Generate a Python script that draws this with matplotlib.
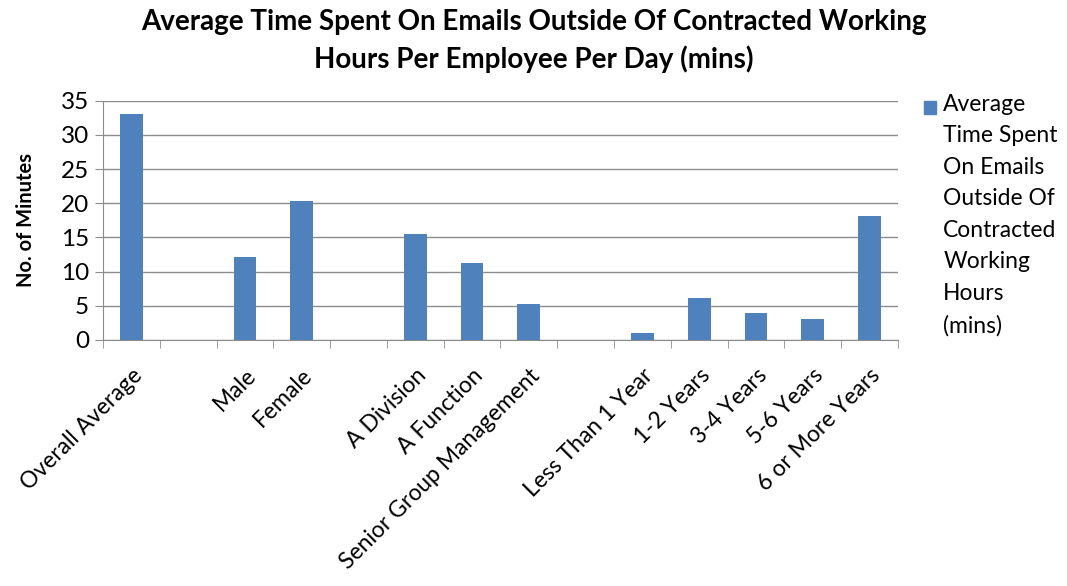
import matplotlib
matplotlib.use("Agg")
import matplotlib.pyplot as plt
import numpy as np

plt.rcParams['font.family'] = ['Lato', 'DejaVu Sans']

categories = ["Overall Average", "", "Male", "Female", "", "A Division",
              "A Function", "Senior Group Management", "", "Less Than 1 Year",
              "1-2 Years", "3-4 Years", "5-6 Years", "6 or More Years"]
minutes = [33.1, 0, 12.2, 20.4, 0, 15.5, 11.3, 5.3, 0, 1.0, 6.1, 3.9, 3.0, 18.2]
series_name = "Average Time Spent On Emails Outside Of Contracted Working Hours (mins)"
legend_text = "Average\nTime Spent\nOn Emails\nOutside Of\nContracted\nWorking\nHours\n(mins)"

bar_color = '#4F81BD'
grid_color = '#8C8C8C'

fig = plt.figure(figsize=(10.67, 5.86), dpi=100)
ax = fig.add_axes([0.0965, 0.42, 0.745, 0.408])

x = np.arange(len(categories))
bars = ax.bar(x, minutes, width=0.4, color=bar_color, zorder=3, label=series_name)

ax.set_xlim(-0.5, len(categories) - 0.5)
ax.set_ylim(0, 35)
ax.set_yticks(range(0, 36, 5))
ax.yaxis.grid(True, color=grid_color, linewidth=1.0, zorder=0)

ax.set_xticks(x)
ax.set_xticklabels(categories, rotation=45, ha='right', rotation_mode='anchor',
                   fontsize=16.5)
ax.set_xticks(np.arange(-0.5, len(categories), 1), minor=True)
ax.tick_params(axis='x', which='major', length=0, pad=18)
ax.tick_params(axis='x', which='minor', length=6, color=grid_color, direction='out')
ax.tick_params(axis='y', length=6, color=grid_color, labelsize=17.5, pad=4)

for side in ['top', 'right']:
    ax.spines[side].set_visible(False)
for side in ['left', 'bottom']:
    ax.spines[side].set_color(grid_color)

ax.set_ylabel("No. of Minutes", fontsize=14.5, fontweight='bold', labelpad=18)

fig.suptitle("Average Time Spent On Emails Outside Of Contracted Working\nHours Per Employee Per Day (mins)",
             fontsize=20, fontweight='bold', x=0.5, y=0.985, linespacing=1.45)

# legend drawn by hand so the wrapped label lines up with the marker
fig.patches.append(plt.Rectangle((0.866, 0.806), 0.0115, 0.021, transform=fig.transFigure,
                                 color=bar_color, figure=fig))
fig.text(0.884, 0.84, legend_text, fontsize=16.5, va='top', ha='left', linespacing=1.62)

fig.savefig("out.png", dpi=100)
